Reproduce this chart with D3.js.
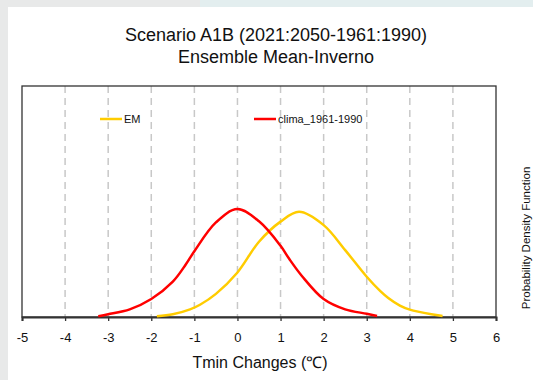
<!DOCTYPE html>
<html>
<head>
<meta charset="utf-8">
<script src="https://cdn.jsdelivr.net/npm/d3@7"></script>
<style>
  body { margin: 0; background: #ffffff; }
  svg text { font-family: "Liberation Sans", Arial, sans-serif; fill: #111; }
</style>
</head>
<body>
<div id="chart"></div>
<script>
// values
var xTicks = [-5, -4, -3, -2, -1, 0, 1, 2, 3, 4, 5, 6];
var gridTicks = [-4, -3, -2, -1, 0, 1, 2, 3, 4, 5];

var climaX = [-3.23, -3, -2.5, -2, -1.5, -1.2, -1, -0.5, 0, 0.5, 1, 1.2, 1.5, 2, 2.5, 3, 3.24];
var climaY = [0.003, 0.010, 0.028, 0.066, 0.130, 0.193, 0.242, 0.348, 0.397, 0.352, 0.262, 0.214, 0.150, 0.066, 0.028, 0.012, 0.004];

var emX = [-1.87, -1.5, -1.1, -0.87, -0.5, 0, 0.5, 1, 1.43, 2, 2.5, 3, 3.31, 3.5, 3.77, 4, 4.5, 4.76];
var emY = [0.003, 0.010, 0.028, 0.045, 0.085, 0.164, 0.277, 0.351, 0.387, 0.338, 0.246, 0.148, 0.096, 0.070, 0.042, 0.027, 0.010, 0.004];

var seriesNames = ["EM", "clima_1961-1990"];
var seriesColors = ["#ffcc00", "#ff0000"];

var svgWidth = 533;
var svgHeight = 380;

var margin = {
  top: 86,
  right: 37,
  bottom: 63,
  left: 22
};

var width = svgWidth - margin.left - margin.right;
var height = svgHeight - margin.top - margin.bottom;

var svg = d3
  .select("#chart")
  .append("svg")
  .attr("width", svgWidth)
  .attr("height", svgHeight);

// faint page frame around the white panel
svg.append("rect")
  .attr("width", svgWidth)
  .attr("height", svgHeight)
  .attr("fill", "#e8e9e9");
svg.append("rect")
  .attr("x", 200)
  .attr("width", svgWidth - 200)
  .attr("height", 8)
  .attr("fill", "#e3eeef");
svg.append("rect")
  .attr("x", 8)
  .attr("y", 7)
  .attr("width", svgWidth - 8)
  .attr("height", svgHeight - 7)
  .attr("fill", "#ffffff");

var chartGroup = svg.append("g")
  .attr("transform", `translate(${margin.left}, ${margin.top})`);

var xLinearScale = d3.scaleLinear()
  .domain([-5, 6])
  .range([0, width]);

var yLinearScale = d3.scaleLinear()
  .domain([0, 0.85])
  .range([height, 0]);

// dashed vertical grid
chartGroup.selectAll(".grid")
  .data(gridTicks)
  .enter()
  .append("line")
  .attr("x1", d => xLinearScale(d))
  .attr("x2", d => xLinearScale(d))
  .attr("y1", 0)
  .attr("y2", height)
  .attr("stroke", "#c8c8c8")
  .attr("stroke-width", 1.5)
  .attr("stroke-dasharray", "7,5");

// frame
chartGroup.append("rect")
  .attr("width", width)
  .attr("height", height)
  .attr("fill", "none")
  .attr("stroke", "#333")
  .attr("stroke-width", 1.3);

var bottomAxis = d3.axisBottom(xLinearScale)
  .tickValues(xTicks)
  .tickSize(4)
  .tickFormat(d3.format("d"));

var xAxis = chartGroup.append("g")
  .attr("transform", `translate(0, ${height})`)
  .call(bottomAxis);

xAxis.select(".domain")
  .attr("stroke", "#333")
  .attr("stroke-width", 2);
xAxis.selectAll(".tick line")
  .attr("stroke", "#333")
  .attr("stroke-width", 1.3);
xAxis.selectAll(".tick text")
  .attr("y", 16)
  .attr("font-size", "13px")
  .attr("fill", "#111")
  .text(d => d < 0 ? "-" + Math.abs(d) : d);

var line = d3.line()
  .x(d => xLinearScale(d[0]))
  .y(d => yLinearScale(d[1]))
  .curve(d3.curveCatmullRom.alpha(0.5));

var curves = [d3.zip(emX, emY), d3.zip(climaX, climaY)];

chartGroup.selectAll(".pdf")
  .data(curves)
  .enter()
  .append("path")
  .attr("d", d => line(d))
  .attr("fill", "none")
  .attr("stroke", (d, i) => seriesColors[i])
  .attr("stroke-width", 2.5)
  .attr("stroke-linejoin", "round");

// legend
var legendX = [100, 254];
var legend = svg.selectAll(".legend")
  .data(seriesNames)
  .enter()
  .append("g")
  .attr("transform", (d, i) => `translate(${legendX[i]}, 119)`);

legend.append("line")
  .attr("x1", 0)
  .attr("x2", 22)
  .attr("stroke", (d, i) => seriesColors[i])
  .attr("stroke-width", 2.5);

legend.append("text")
  .attr("x", 24)
  .attr("y", 4)
  .attr("font-size", "11px")
  .text(d => d);

// titles
svg.append("text")
  .attr("x", 276)
  .attr("y", 41)
  .attr("text-anchor", "middle")
  .attr("font-size", "18px")
  .text("Scenario A1B (2021:2050-1961:1990)");

svg.append("text")
  .attr("x", 276)
  .attr("y", 63)
  .attr("text-anchor", "middle")
  .attr("font-size", "18px")
  .text("Ensemble Mean-Inverno");

svg.append("text")
  .attr("x", 260)
  .attr("y", 368)
  .attr("text-anchor", "middle")
  .attr("font-size", "16px")
  .text("Tmin Changes (\u2103)");

svg.append("text")
  .attr("transform", "translate(530, 238) rotate(-90)")
  .attr("text-anchor", "middle")
  .attr("font-size", "11.5px")
  .text("Probability Density Function");
</script>
</body>
</html>
